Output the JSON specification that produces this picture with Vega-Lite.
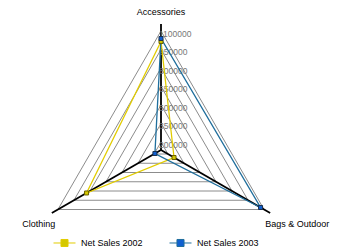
{
  "$schema": "https://vega.github.io/schema/vega-lite/v6.json",
  "width": 338,
  "height": 248,
  "autosize": "none",
  "padding": 0,
  "config": {"view": {"stroke": null}, "font": "Liberation Sans"},
  "datasets": {
    "sales": [
      {"category": "Accessories", "series": "Net Sales 2002", "value": 1015000},
      {"category": "Bags & Outdoor", "series": "Net Sales 2002", "value": 257000},
      {"category": "Clothing", "series": "Net Sales 2002", "value": 832000},
      {"category": "Accessories", "series": "Net Sales 2003", "value": 1039000},
      {"category": "Bags & Outdoor", "series": "Net Sales 2003", "value": 1067000},
      {"category": "Clothing", "series": "Net Sales 2003", "value": 192000}
    ],
    "grid": [
      {"category": "Accessories", "ring": 200000}, {"category": "Bags & Outdoor", "ring": 200000}, {"category": "Clothing", "ring": 200000},
      {"category": "Accessories", "ring": 350000}, {"category": "Bags & Outdoor", "ring": 350000}, {"category": "Clothing", "ring": 350000},
      {"category": "Accessories", "ring": 500000}, {"category": "Bags & Outdoor", "ring": 500000}, {"category": "Clothing", "ring": 500000},
      {"category": "Accessories", "ring": 650000}, {"category": "Bags & Outdoor", "ring": 650000}, {"category": "Clothing", "ring": 650000},
      {"category": "Accessories", "ring": 800000}, {"category": "Bags & Outdoor", "ring": 800000}, {"category": "Clothing", "ring": 800000},
      {"category": "Accessories", "ring": 950000}, {"category": "Bags & Outdoor", "ring": 950000}, {"category": "Clothing", "ring": 950000},
      {"category": "Accessories", "ring": 1100000}, {"category": "Bags & Outdoor", "ring": 1100000}, {"category": "Clothing", "ring": 1100000}
    ],
    "ticks": [
      {"category": "Accessories", "ring": 200000},
      {"category": "Accessories", "ring": 350000},
      {"category": "Accessories", "ring": 500000},
      {"category": "Accessories", "ring": 650000},
      {"category": "Accessories", "ring": 800000},
      {"category": "Accessories", "ring": 950000},
      {"category": "Accessories", "ring": 1100000}
    ],
    "axes": [
      {"category": "Accessories", "ring": 1157000},
      {"category": "Bags & Outdoor", "ring": 1157000},
      {"category": "Clothing", "ring": 1157000}
    ]
  },
  "layer": [
    {
      "data": {"name": "grid"},
      "transform": [
        {"calculate": "datum.category === 'Accessories' ? 0 : datum.category === 'Bags & Outdoor' ? 2*PI/3 : 4*PI/3", "as": "a"},
        {"calculate": "(datum.ring - 135000) * sin(datum.a)", "as": "px"},
        {"calculate": "(datum.ring - 135000) * cos(datum.a)", "as": "py"}
      ],
      "mark": {"type": "line", "interpolate": "linear-closed", "stroke": "#8c8c8c", "strokeWidth": 1},
      "encoding": {
        "x": {"field": "px", "type": "quantitative", "scale": {"domain": [-1305400, 1435100]}, "axis": null},
        "y": {"field": "py", "type": "quantitative", "scale": {"domain": [-794600, 1216200]}, "axis": null},
        "detail": {"field": "ring", "type": "nominal"}
      }
    },
    {
      "data": {"name": "axes"},
      "transform": [
        {"calculate": "datum.category === 'Accessories' ? 0 : datum.category === 'Bags & Outdoor' ? 2*PI/3 : 4*PI/3", "as": "a"},
        {"calculate": "(datum.ring - 135000) * sin(datum.a)", "as": "px"},
        {"calculate": "(datum.ring - 135000) * cos(datum.a)", "as": "py"},
        {"calculate": "0", "as": "zero"}
      ],
      "mark": {"type": "rule", "color": "#000", "strokeWidth": 1.8},
      "encoding": {
        "x": {"field": "px", "type": "quantitative", "scale": {"domain": [-1305400, 1435100]}, "axis": null},
        "y": {"field": "py", "type": "quantitative", "scale": {"domain": [-794600, 1216200]}, "axis": null},
        "x2": {"field": "zero"},
        "y2": {"field": "zero"}
      }
    },
    {
      "data": {"name": "ticks"},
      "transform": [
        {"calculate": "datum.ring - 135000", "as": "py"},
        {"calculate": "0", "as": "zero"}
      ],
      "mark": {"type": "text", "align": "left", "baseline": "middle", "dx": -2, "dy": 3, "fontSize": 8.5, "color": "#777"},
      "encoding": {
        "x": {"field": "zero", "type": "quantitative", "scale": {"domain": [-1305400, 1435100]}, "axis": null},
        "y": {"field": "py", "type": "quantitative", "scale": {"domain": [-794600, 1216200]}, "axis": null},
        "text": {"field": "ring", "type": "quantitative", "format": "d"}
      }
    },
    {
      "data": {"name": "sales"},
      "transform": [
        {"calculate": "datum.category === 'Accessories' ? 0 : datum.category === 'Bags & Outdoor' ? 2*PI/3 : 4*PI/3", "as": "a"},
        {"calculate": "(datum.value - 135000) * sin(datum.a)", "as": "px"},
        {"calculate": "(datum.value - 135000) * cos(datum.a)", "as": "py"}
      ],
      "mark": {"type": "line", "interpolate": "linear-closed", "strokeWidth": 1.3},
      "encoding": {
        "x": {"field": "px", "type": "quantitative", "scale": {"domain": [-1305400, 1435100]}, "axis": null},
        "y": {"field": "py", "type": "quantitative", "scale": {"domain": [-794600, 1216200]}, "axis": null},
        "color": {
          "field": "series", "type": "nominal",
          "scale": {"domain": ["Net Sales 2002", "Net Sales 2003"], "range": ["#e2cc00", "#1f6e9c"]},
          "legend": {
            "orient": "none", "legendX": 53, "legendY": 231, "direction": "horizontal", "title": null,
            "symbolType": "M-1,0L-0.32,0M0.32,0L1,0M-0.32,-0.32L0.32,-0.32L0.32,0.32L-0.32,0.32Z",
            "symbolSize": 484, "symbolStrokeWidth": 1, "labelFontSize": 9, "labelColor": "#000",
            "labelOffset": 5, "columnPadding": 24, "padding": 0,
            "encode": {"symbols": {"update": {
              "fill": {"signal": "datum.value === 'Net Sales 2002' ? '#c8c400' : '#1060d0'"},
              "stroke": {"signal": "datum.value === 'Net Sales 2002' ? '#d8cc40' : '#5a9ad8'"},
              "opacity": {"value": 1}, "fillOpacity": {"value": 1}
            }}}
          }
        }
      }
    },
    {
      "data": {"name": "sales"},
      "transform": [
        {"calculate": "datum.category === 'Accessories' ? 0 : datum.category === 'Bags & Outdoor' ? 2*PI/3 : 4*PI/3", "as": "a"},
        {"calculate": "(datum.value - 135000) * sin(datum.a)", "as": "px"},
        {"calculate": "(datum.value - 135000) * cos(datum.a)", "as": "py"}
      ],
      "mark": {"type": "point", "shape": "square", "size": 16, "filled": false, "strokeWidth": 1, "opacity": 1},
      "encoding": {
        "x": {"field": "px", "type": "quantitative", "scale": {"domain": [-1305400, 1435100]}, "axis": null},
        "y": {"field": "py", "type": "quantitative", "scale": {"domain": [-794600, 1216200]}, "axis": null},
        "fill": {"field": "series", "type": "nominal", "scale": {"domain": ["Net Sales 2002", "Net Sales 2003"], "range": ["#d4c800", "#1060d0"]}, "legend": null},
        "stroke": {"field": "series", "type": "nominal", "scale": {"domain": ["Net Sales 2002", "Net Sales 2003"], "range": ["#6a6000", "#1a3050"]}, "legend": null}
      }
    },
    {
      "data": {"name": "axes"},
      "transform": [
        {"filter": "datum.category === 'Accessories'"},
        {"calculate": "datum.ring - 135000", "as": "py"},
        {"calculate": "0", "as": "zero"}
      ],
      "mark": {"type": "text", "align": "center", "baseline": "middle", "dy": -12, "fontSize": 9, "color": "#000"},
      "encoding": {
        "x": {"field": "zero", "type": "quantitative", "scale": {"domain": [-1305400, 1435100]}, "axis": null},
        "y": {"field": "py", "type": "quantitative", "scale": {"domain": [-794600, 1216200]}, "axis": null},
        "text": {"field": "category", "type": "nominal"}
      }
    },
    {
      "data": {"name": "axes"},
      "transform": [
        {"filter": "datum.category === 'Clothing'"},
        {"calculate": "4*PI/3", "as": "a"},
        {"calculate": "(datum.ring - 135000) * sin(datum.a)", "as": "px"},
        {"calculate": "(datum.ring - 135000) * cos(datum.a)", "as": "py"}
      ],
      "mark": {"type": "text", "align": "center", "baseline": "middle", "dx": -13, "dy": 11, "fontSize": 9, "color": "#000"},
      "encoding": {
        "x": {"field": "px", "type": "quantitative", "scale": {"domain": [-1305400, 1435100]}, "axis": null},
        "y": {"field": "py", "type": "quantitative", "scale": {"domain": [-794600, 1216200]}, "axis": null},
        "text": {"field": "category", "type": "nominal"}
      }
    },
    {
      "data": {"name": "axes"},
      "transform": [
        {"filter": "datum.category === 'Bags & Outdoor'"},
        {"calculate": "2*PI/3", "as": "a"},
        {"calculate": "(datum.ring - 135000) * sin(datum.a)", "as": "px"},
        {"calculate": "(datum.ring - 135000) * cos(datum.a)", "as": "py"}
      ],
      "mark": {"type": "text", "align": "center", "baseline": "middle", "dx": 27, "dy": 11, "fontSize": 9, "color": "#000"},
      "encoding": {
        "x": {"field": "px", "type": "quantitative", "scale": {"domain": [-1305400, 1435100]}, "axis": null},
        "y": {"field": "py", "type": "quantitative", "scale": {"domain": [-794600, 1216200]}, "axis": null},
        "text": {"field": "category", "type": "nominal"}
      }
    }
  ]
}
